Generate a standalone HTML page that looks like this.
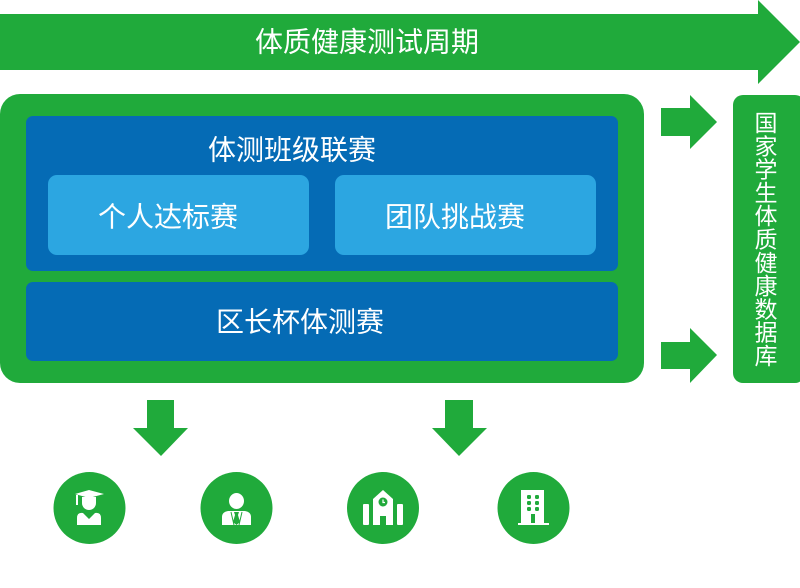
<!DOCTYPE html>
<html><head><meta charset="utf-8"><style>
html,body{margin:0;padding:0;background:#fff;}
svg{display:block;}
text{font-family:"Liberation Sans","Noto Sans CJK SC",sans-serif;fill:#fff;}
</style></head><body>
<svg width="800" height="588" viewBox="0 0 800 588" xmlns="http://www.w3.org/2000/svg">
<!-- top arrow -->
<polygon points="0,14 758,14 758,0 800,42 758,84 758,70 0,70" fill="#20aa3b"/>
<text x="367" y="42" font-size="28" text-anchor="middle" dominant-baseline="central">体质健康测试周期</text>

<!-- main green box -->
<rect x="0" y="94" width="644" height="289" rx="20" fill="#20aa3b"/>
<rect x="26" y="116" width="592" height="155" rx="7" fill="#056bb5"/>
<rect x="26" y="282" width="592" height="79" rx="7" fill="#056bb5"/>
<rect x="48" y="175" width="261" height="80" rx="9" fill="#2ca6e1"/>
<rect x="335" y="175" width="261" height="80" rx="9" fill="#2ca6e1"/>
<text x="292" y="150" font-size="28" text-anchor="middle" dominant-baseline="central">体测班级联赛</text>
<text x="168" y="217" font-size="28" text-anchor="middle" dominant-baseline="central">个人达标赛</text>
<text x="455" y="217" font-size="28" text-anchor="middle" dominant-baseline="central">团队挑战赛</text>
<text x="300" y="322" font-size="28" text-anchor="middle" dominant-baseline="central">区长杯体测赛</text>

<!-- right arrows -->
<polygon points="661,108 690,108 690,95 717,122 690,149 690,136 661,136" fill="#20aa3b"/>
<polygon points="661,342 690,342 690,328 717,355 690,383 690,369 661,369" fill="#20aa3b"/>

<!-- right db box -->
<rect x="733" y="95" width="72" height="288" rx="10" fill="#20aa3b"/>
<g font-size="23" text-anchor="middle" dominant-baseline="central">
<text x="766" y="123">国</text>
<text x="766" y="146.3">家</text>
<text x="766" y="169.6">学</text>
<text x="766" y="192.9">生</text>
<text x="766" y="216.2">体</text>
<text x="766" y="239.5">质</text>
<text x="766" y="262.8">健</text>
<text x="766" y="286.1">康</text>
<text x="766" y="309.4">数</text>
<text x="766" y="332.7">据</text>
<text x="766" y="356">库</text>
</g>

<!-- down arrows -->
<polygon points="147,400 174,400 174,428 188,428 161,456 133,428 147,428" fill="#20aa3b"/>
<polygon points="445,400 473,400 473,428 487,428 459,456 432,428 445,428" fill="#20aa3b"/>

<!-- circles -->
<circle cx="89.5" cy="508" r="36" fill="#20aa3b"/>
<circle cx="236.5" cy="508" r="36" fill="#20aa3b"/>
<circle cx="383" cy="508" r="36" fill="#20aa3b"/>
<circle cx="533.5" cy="508" r="36" fill="#20aa3b"/>

<!-- student icon -->
<g fill="#fff">
<polygon points="75,494 89,490 104,494 89,498"/>
<rect x="76" y="495" width="2" height="10"/>
<path d="M82,497 L96,497 L96,503 A7,7 0 0 1 82,503 Z"/>
<path d="M77,525 L77,518 Q77,512 83,513 L89,519 L95,513 Q101,512 101,518 L101,525 Z"/>
</g>

<!-- teacher icon -->
<g fill="#fff">
<ellipse cx="236.5" cy="501" rx="7.5" ry="8"/>
<path d="M222,525 L222,517 Q222,512 228,511 L245,511 Q251,512 251,517 L251,525 Z"/>
</g>
<path d="M234,512 L239,512 L238,515 L240,522 L236.5,525 L233,522 L235,515 Z" fill="#20aa3b"/>
<path d="M231,512 L234,525 M242,512 L239,525" stroke="#20aa3b" stroke-width="1"/>

<!-- school icon -->
<g fill="#fff">
<polygon points="373,525 373,499 383,490 393,499 393,525"/>
<rect x="363" y="504" width="6" height="21" rx="1"/>
<rect x="397" y="504" width="6" height="21" rx="1"/>
</g>
<rect x="380" y="516" width="6" height="9" fill="#20aa3b"/>
<circle cx="383" cy="502" r="4.5" fill="#20aa3b"/>
<path d="M383,499.5 L383,502.5 L385,502.5" stroke="#fff" stroke-width="1.2" fill="none"/>

<!-- building icon -->
<rect x="521" y="490" width="23" height="34" fill="#fff"/>
<rect x="518" y="523" width="31" height="2" fill="#fff"/>
<g fill="#20aa3b">
<rect x="527" y="495" width="4" height="4" rx="1.2"/>
<rect x="535" y="495" width="4" height="4" rx="1.2"/>
<rect x="527" y="501" width="4" height="4" rx="1.2"/>
<rect x="535" y="501" width="4" height="4" rx="1.2"/>
<rect x="527" y="507" width="4" height="4" rx="1.2"/>
<rect x="535" y="507" width="4" height="4" rx="1.2"/>
<rect x="531" y="514" width="4" height="9"/>
</g>
</svg>
</body></html>
